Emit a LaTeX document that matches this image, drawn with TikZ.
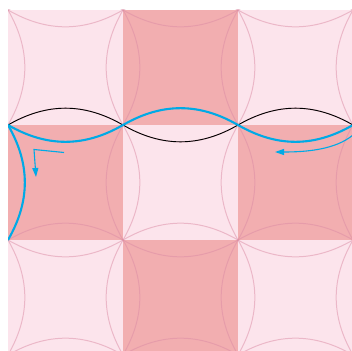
\documentclass[tikz,border=0pt]{standalone}
\usetikzlibrary{arrows.meta}
\definecolor{lightpink}{RGB}{252,228,236}
\definecolor{darkpink}{RGB}{242,174,176}
\definecolor{arcpink}{RGB}{220,140,165}
\definecolor{cyanline}{RGB}{0,170,230}
\tikzset{
  cellarc/.style={draw=arcpink, draw opacity=0.5, line width=1pt},
  blackcurve/.style={draw=black, line width=0.9pt},
  bluecurve/.style={draw=cyanline, line width=2.1pt},
  bluearrow/.style={draw=cyanline, line width=1.1pt, -{Triangle[length=9pt,width=6pt]}}
}
\begin{document}
\begin{tikzpicture}[x=1pt,y=-1pt]
\useasboundingbox (0,0) rectangle (352,350);
\fill[white] (0,0) rectangle (352,350);
\begin{scope}
\clip (8,10) rectangle (352,350);
% cells
\foreach \c in {0,1,2}{
  \foreach \r in {0,1,2}{
    \pgfmathtruncatemacro{\parity}{mod(\c+\r,2)}
    \ifnum\parity=0
      \fill[lightpink] ({8+115*\c},{10+115*\r}) rectangle ++(115,115);
    \else
      \fill[darkpink] ({8+115*\c},{10+115*\r}) rectangle ++(115,115);
    \fi
  }
}
% lens arcs on vertical lines
\foreach \c in {0,1,2,3}{
  \foreach \r in {0,1,2}{
    \path[cellarc] ({8+115*\c},{10+115*\r}) to[bend left=30] ({8+115*\c},{125+115*\r});
    \path[cellarc] ({8+115*\c},{10+115*\r}) to[bend right=30] ({8+115*\c},{125+115*\r});
  }
}
% lens arcs on horizontal lines
\foreach \r in {0,1,2,3}{
  \foreach \c in {0,1,2}{
    \path[cellarc] ({8+115*\c},{10+115*\r}) to[bend left=30] ({123+115*\c},{10+115*\r});
    \path[cellarc] ({8+115*\c},{10+115*\r}) to[bend right=30] ({123+115*\c},{10+115*\r});
  }
}
% curves
\coordinate (p0) at (8,125);
\coordinate (p1) at (123,125);
\coordinate (p2) at (238,125);
\coordinate (p3) at (353,125);
\coordinate (q0) at (8,240);
\path[blackcurve] (p0) to[bend left=30] (p1) to[bend right=30] (p2) to[bend left=30] (p3);
\path[bluecurve] (p0) to[bend right=30] (p1) to[bend left=30] (p2) to[bend right=30] (p3);
\path[bluecurve] (p0) to[bend left=30] (q0);
% arrows
\coordinate (a0) at (64,152.5);
\coordinate (a1) at (34,149.5);
\coordinate (a2) at (36,177);
\path[bluearrow] (a0) -- (a1) -- (a2);
\coordinate (b0) at (353,135);
\coordinate (b1) at (275,152);
\path[bluearrow] (b0) .. controls (335,150) and (305,152) .. (b1);
\end{scope}
\end{tikzpicture}
\end{document}
